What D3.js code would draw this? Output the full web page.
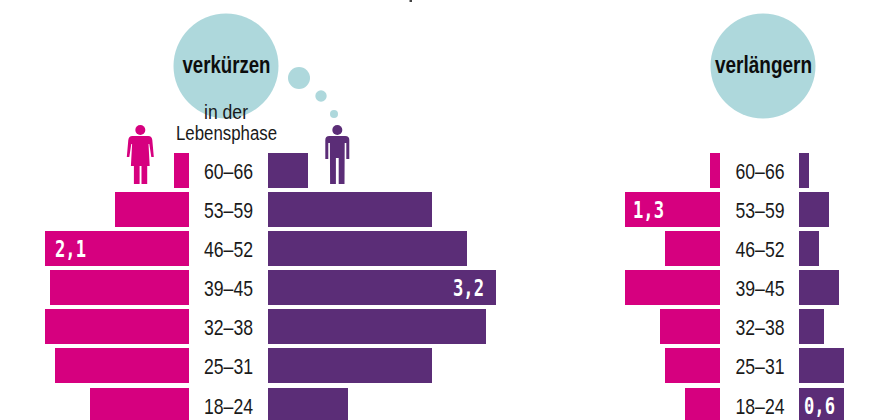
<!DOCTYPE html>
<html>
<head>
  <meta charset="utf-8" />
  <style>
    html, body { margin: 0; padding: 0; background: #fff; }
    svg { display: block; }
    text { font-family: "Liberation Sans", sans-serif; }
  </style>
  <script src="https://d3js.org/d3.v7.min.js"></script>
</head>
<body>
  <svg width="895" height="420"></svg>
  <script>
    var ageGroups = ["60–66", "53–59", "46–52", "39–45", "32–38", "25–31", "18–24"];

    // in years
    var shortenWomen = [0.21, 1.04, 2.02, 1.95, 2.02, 1.88, 1.39];
    var shortenMen = [0.56, 2.3, 2.79, 3.2, 3.06, 2.3, 1.12];
    var extendWomen = [0.14, 1.33, 0.77, 1.33, 0.84, 0.77, 0.49];
    var extendMen = [0.14, 0.42, 0.28, 0.56, 0.35, 0.63, 0.63];

    var shortenWomenLabels = ["", "", "2,1", "", "", "", ""];
    var shortenMenLabels = ["", "", "", "3,2", "", "", ""];
    var extendWomenLabels = ["", "1,3", "", "", "", "", ""];
    var extendMenLabels = ["", "", "", "", "", "", "0,6"];

    var pink = "#d6007f";
    var purple = "#5b2d77";
    var bubble = "#aed8dc";
    var ink = "#1a1a1a";
    var barHeight = 35;

    var svg = d3.select("svg");

    var y = d3.scalePoint().domain(ageGroups).range([153, 387.54]);
    var len = d3.scaleLinear().domain([0, 1]).range([0, 71.25]);

    // the only condensed look available: squeeze the glyphs to the measured width
    function squeezed(x, yPos, size, width, weight, str) {
      return svg.append("text")
        .attr("x", x)
        .attr("y", yPos)
        .attr("text-anchor", "middle")
        .attr("font-size", size)
        .attr("font-weight", weight)
        .attr("fill", ink)
        .attr("textLength", width)
        .attr("lengthAdjust", "spacingAndGlyphs")
        .text(str);
    }

    //Bubbles
    var bubbles = svg.append("g");
    [[226, 66, 52.5], [299, 78, 11], [321, 96, 5.7], [334, 114, 4], [763, 66, 52.5]].forEach(function (b) {
      bubbles.append("circle").attr("cx", b[0]).attr("cy", b[1]).attr("r", b[2]).attr("fill", bubble);
    });

    // speck left over from the cropped line above the chart
    svg.append("rect").attr("x", 409.5).attr("y", 0).attr("width", 2.5).attr("height", 2).attr("fill", "#444");

    squeezed(226.5, 73, 24, 88, "bold", "verkürzen").attr("fill", "#0d0d0d");
    squeezed(763.5, 73, 24, 97, "bold", "verlängern").attr("fill", "#0d0d0d");
    squeezed(226, 119, 20, 44, "normal", "in der");
    squeezed(226.5, 140, 20, 101, "normal", "Lebensphase");

    function drawBars(values, labels, zero, dir, color, inset) {
      var g = svg.append("g");
      g.selectAll("rect")
        .data(values)
        .enter()
        .append("rect")
        .attr("shape-rendering", "crispEdges")
        .attr("x", function (d) { return dir < 0 ? zero - Math.round(len(d)) : zero; })
        .attr("y", function (d, i) { return Math.round(y(ageGroups[i])); })
        .attr("width", function (d) { return Math.round(len(d)); })
        .attr("height", barHeight)
        .attr("fill", color);

      g.selectAll("text")
        .data(labels)
        .enter()
        .append("text")
        .attr("x", function (d, i) {
          return zero + dir * Math.round(len(values[i])) - dir * inset;
        })
        .attr("y", function (d, i) { return Math.round(y(ageGroups[i])) + 26; })
        .attr("text-anchor", dir < 0 ? "start" : "end")
        .attr("fill", "#fff")
        .attr("font-size", 23)
        .attr("font-weight", "bold")
        .style("font-family", "'DejaVu Sans Mono', monospace")
        .attr("textLength", function (d) { return d ? 31 : null; })
        .attr("lengthAdjust", "spacingAndGlyphs")
        .text(function (d) { return d; });
    }

    function drawAges(cx) {
      ageGroups.forEach(function (d) {
        squeezed(cx, Math.round(y(d)) + 26, 22.5, 49, "normal", d);
      });
    }

    drawBars(shortenWomen, shortenWomenLabels, 189, -1, pink, 10);
    drawBars(shortenMen, shortenMenLabels, 268, 1, purple, 12);
    drawBars(extendWomen, extendWomenLabels, 720, -1, pink, 8);
    drawBars(extendMen, extendMenLabels, 799, 1, purple, 9);
    drawAges(228.5);
    drawAges(760);

    //Icons, drawn around the head centre
    var woman = svg.append("g").attr("transform", "translate(140.3,130)").attr("fill", pink);
    woman.append("circle").attr("r", 5);
    woman.append("path").attr("d", "M-8,6 L8,6 Q11.5,6 12,10 L13.5,27 L11,27 L9,14 L8.2,14 L9.4,36 L-9.4,36 L-8.2,14 L-9,14 L-11,27 L-13.5,27 L-12,10 Q-11.5,6 -8,6 Z");
    woman.append("rect").attr("x", -6.4).attr("y", 36).attr("width", 5.7).attr("height", 18);
    woman.append("rect").attr("x", 1.2).attr("y", 36).attr("width", 5.7).attr("height", 18);

    var man = svg.append("g").attr("transform", "translate(337.3,130)").attr("fill", purple);
    man.append("circle").attr("r", 5);
    man.append("path").attr("d", "M-8,6 L8,6 Q12,6 12,10 L12,29 L9,29 L9,13 L7.4,13 L7.2,54 L1.4,54 L1.4,28 L-1.4,28 L-1.4,54 L-7.2,54 L-7.4,13 L-9,13 L-9,29 L-12,29 L-12,10 Q-12,6 -8,6 Z");
  </script>
</body>
</html>
